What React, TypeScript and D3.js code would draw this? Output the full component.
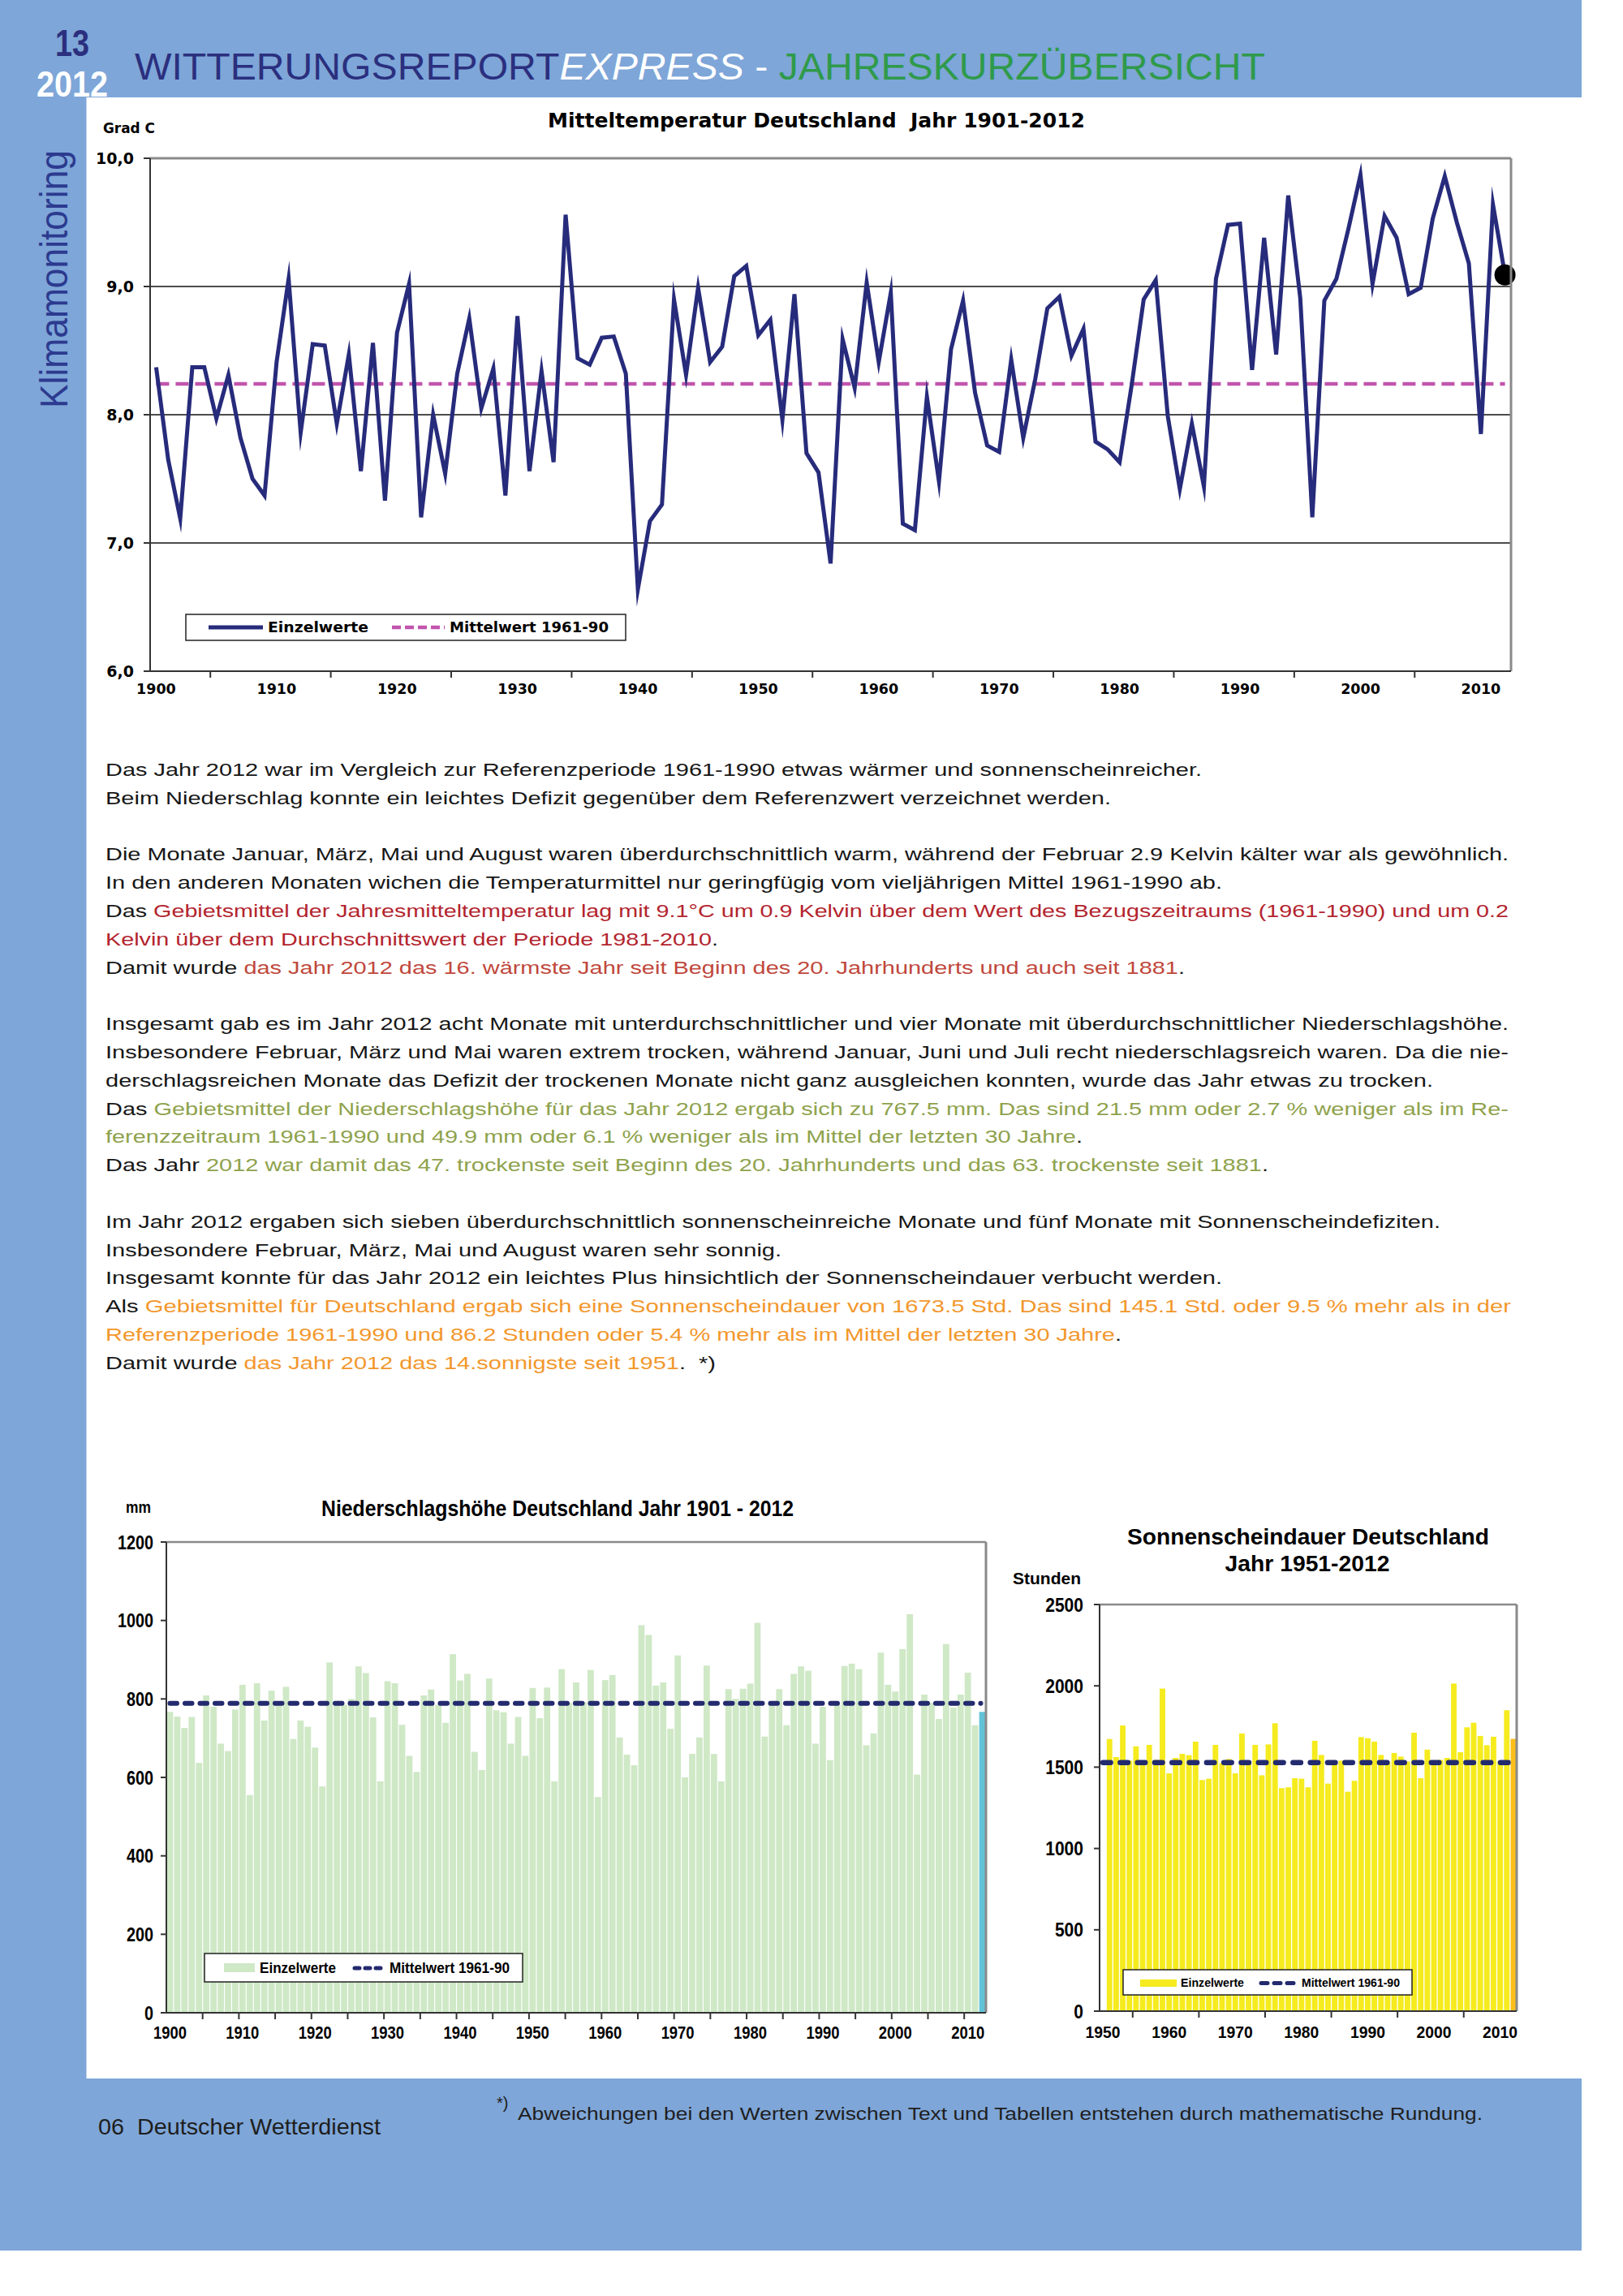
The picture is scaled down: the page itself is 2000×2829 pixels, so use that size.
import React from 'react';
import * as d3 from 'd3';

// ---------- DATA ----------
const TEMP_START = 1900;
const tempValues = [
  8.37, 7.65, 7.19, 8.37, 8.37, 7.97, 8.31, 7.82, 7.50, 7.37,
  8.41, 9.06, 7.86, 8.55, 8.54, 7.93, 8.47, 7.56, 8.56, 7.33,
  8.64, 9.02, 7.20, 8.00, 7.54, 8.32, 8.75, 8.05, 8.36, 7.37,
  8.77, 7.56, 8.34, 7.63, 9.56, 8.44, 8.39, 8.60, 8.61, 8.32,
  6.64, 7.17, 7.30, 8.90, 8.31, 8.99, 8.41, 8.53, 9.08, 9.16,
  8.62, 8.74, 7.96, 8.94, 7.70, 7.55, 6.84, 8.59, 8.21, 9.03,
  8.41, 8.95, 7.15, 7.10, 8.14, 7.48, 8.51, 8.89, 8.17, 7.76,
  7.71, 8.43, 7.82, 8.28, 8.83, 8.92, 8.46, 8.67, 7.79, 7.73,
  7.63, 8.23, 8.90, 9.05, 7.99, 7.42, 7.93, 7.44, 9.06, 9.48,
  9.49, 8.35, 9.38, 8.47, 9.71, 8.91, 7.20, 8.89, 9.06, 9.45,
  9.87, 9.02, 9.55, 9.38, 8.94, 8.99, 9.53, 9.86, 9.50, 9.18,
  7.85, 9.64, 9.09,
];
const tempMean = 8.24;
const tempTicks = [6, 7, 8, 9, 10];
const tempTickLabels = ['6,0', '7,0', '8,0', '9,0', '10,0'];
const tempGrid = [7, 8, 9];

const PRECIP_START = 1900;
const precipValues = [
  767, 755, 726, 754, 637, 809, 780, 686, 667, 773,
  836, 555, 840, 745, 821, 790, 831, 698, 745, 729,
  676, 577, 893, 795, 785, 800, 883, 866, 753, 590,
  845, 840, 734, 655, 614, 809, 824, 785, 739, 914,
  847, 864, 665, 619, 852, 771, 766, 686, 754, 655,
  828, 751, 829, 590, 876, 790, 842, 792, 874, 550,
  848, 861, 702, 658, 631, 988, 963, 834, 842, 724,
  911, 600, 660, 702, 885, 660, 590, 825, 800, 826,
  839, 994, 704, 785, 825, 733, 864, 883, 872, 686,
  780, 644, 785, 884, 890, 876, 682, 712, 918, 836,
  819, 927, 1016, 607, 811, 790, 749, 940, 778, 811,
  867, 733, 767,
];
const precipMean = 789;
const precipTicks = [0, 200, 400, 600, 800, 1000, 1200];

const SUN_START = 1950;
// 1950 has no value (axis category only)
const sunValues = [
  null,
  1673, 1562, 1756, 1540, 1628, 1530, 1637, 1545, 1983, 1462,
  1557, 1582, 1574, 1657, 1421, 1429, 1637, 1525, 1550, 1462,
  1707, 1535, 1637, 1450, 1640, 1770, 1371, 1376, 1432, 1429,
  1376, 1662, 1575, 1399, 1520, 1540, 1349, 1416, 1685, 1678,
  1657, 1575, 1530, 1587, 1565, 1535, 1712, 1432, 1608, 1525,
  1545, 1557, 2014, 1592, 1745, 1773, 1692, 1635, 1687, 1535,
  1850, 1674,
];
const sunMean = 1528;
const sunTicks = [0, 500, 1000, 1500, 2000, 2500];

const decadeLabels = [1900, 1910, 1920, 1930, 1940, 1950, 1960, 1970, 1980, 1990, 2000, 2010];
const sunDecadeLabels = [1950, 1960, 1970, 1980, 1990, 2000, 2010];

const RED = '#b3242e';
const RED2 = '#c0473b';
const GREEN = '#8ea24c';
const ORANGE = '#f2972c';
const BLK = '#161616';

const bodyLines: { n: number; end: number; segs: [string, string][] }[] = [
  { n: 1, end: 1481, segs: [['Das Jahr 2012 war im Vergleich zur Referenzperiode 1961-1990 etwas wärmer und sonnenscheinreicher.', BLK]] },
  { n: 2, end: 1369, segs: [['Beim Niederschlag konnte ein leichtes Defizit gegenüber dem Referenzwert verzeichnet werden.', BLK]] },
  { n: 4, end: 1859, segs: [['Die Monate Januar, März, Mai und August waren überdurchschnittlich warm, während der Februar 2.9 Kelvin kälter war als gewöhnlich.', BLK]] },
  { n: 5, end: 1506, segs: [['In den anderen Monaten wichen die Temperaturmittel nur geringfügig vom vieljährigen Mittel 1961-1990 ab.', BLK]] },
  { n: 6, end: 1859, segs: [['Das ', BLK], ['Gebietsmittel der Jahresmitteltemperatur lag mit 9.1°C um 0.9 Kelvin über dem Wert des Bezugszeitraums (1961-1990) und um 0.2', RED]] },
  { n: 7, end: 885, segs: [['Kelvin über dem Durchschnittswert der Periode 1981-2010', RED], ['.', BLK]] },
  { n: 8, end: 1460, segs: [['Damit wurde ', BLK], ['das Jahr 2012 das 16. wärmste Jahr seit Beginn des 20. Jahrhunderts und auch seit 1881', RED2], ['.', BLK]] },
  { n: 10, end: 1859, segs: [['Insgesamt gab es im Jahr 2012 acht Monate mit unterdurchschnittlicher und vier Monate mit überdurchschnittlicher Niederschlagshöhe.', BLK]] },
  { n: 11, end: 1859, segs: [['Insbesondere Februar, März und Mai waren extrem trocken, während Januar, Juni und Juli recht niederschlagsreich waren. Da die nie-', BLK]] },
  { n: 12, end: 1766, segs: [['derschlagsreichen Monate das Defizit der trockenen Monate nicht ganz ausgleichen konnten, wurde das Jahr etwas zu trocken.', BLK]] },
  { n: 13, end: 1859, segs: [['Das ', BLK], ['Gebietsmittel der Niederschlagshöhe für das Jahr 2012 ergab sich zu 767.5 mm. Das sind 21.5 mm oder 2.7 % weniger als im Re-', GREEN]] },
  { n: 14, end: 1334, segs: [['ferenzzeitraum 1961-1990 und 49.9 mm oder 6.1 % weniger als im Mittel der letzten 30 Jahre', GREEN], ['.', BLK]] },
  { n: 15, end: 1563, segs: [['Das Jahr ', BLK], ['2012 war damit das 47. trockenste seit Beginn des 20. Jahrhunderts und das 63. trockenste seit 1881', GREEN], ['.', BLK]] },
  { n: 17, end: 1775, segs: [['Im Jahr 2012 ergaben sich sieben überdurchschnittlich sonnenscheinreiche Monate und fünf Monate mit Sonnenscheindefiziten.', BLK]] },
  { n: 18, end: 963, segs: [['Insbesondere Februar, März, Mai und August waren sehr sonnig.', BLK]] },
  { n: 19, end: 1506, segs: [['Insgesamt konnte für das Jahr 2012 ein leichtes Plus hinsichtlich der Sonnenscheindauer verbucht werden.', BLK]] },
  { n: 20, end: 1862, segs: [['Als ', BLK], ['Gebietsmittel für Deutschland ergab sich eine Sonnenscheindauer von 1673.5 Std. Das sind 145.1 Std. oder 9.5 % mehr als in der', ORANGE]] },
  { n: 21, end: 1382, segs: [['Referenzperiode 1961-1990 und 86.2 Stunden oder 5.4 % mehr als im Mittel der letzten 30 Jahre', ORANGE], ['.', BLK]] },
  { n: 22, end: 882, segs: [['Damit wurde ', BLK], ['das Jahr 2012 das 14.sonnigste seit 1951', ORANGE], ['.  *)', BLK]] },
];

// ---------- STYLE ----------
const SANS = '"Liberation Sans", Arial, Helvetica, sans-serif';
const DEJA = '"DejaVu Sans", Verdana, sans-serif';
const BLUE = '#7ea6d8';
const NAVY = '#272b7b';
const DASHNAVY = '#232a6e';

type TP = {
  x: number; y: number; w?: number; size: number; fill?: string; weight?: string | number;
  anchor?: 'start' | 'middle' | 'end'; family?: string; italic?: boolean; transform?: string; children?: React.ReactNode;
};
function Txt({ x, y, w, size, fill = '#000', weight = 'normal', anchor = 'start', family = SANS, italic, transform, children }: TP) {
  return (
    <text
      x={x}
      y={y}
      fontSize={size}
      fill={fill}
      fontWeight={weight}
      textAnchor={anchor}
      fontFamily={family}
      fontStyle={italic ? 'italic' : 'normal'}
      textLength={w}
      lengthAdjust={w ? 'spacingAndGlyphs' : undefined}
      transform={transform}
      style={{ whiteSpace: 'pre' }}
    >
      {children}
    </text>
  );
}

function TempChart() {
  const years = tempValues.map((_, i) => TEMP_START + i);
  const x = d3.scaleBand<number>().domain(years).range([185, 1862]);
  const cx = (yr: number) => (x(yr) as number) + x.bandwidth() / 2;
  const y = d3.scaleLinear().domain([6, 10]).range([827, 195]);
  const line = d3.line<number>().x((_, i) => cx(years[i])).y((d) => y(d));
  const step = x.step();
  const tickBounds = d3.range(5, years.length, 10);
  const last = years[years.length - 1];
  return (
    <g>
      <Txt x={1006} y={157} w={662} size={24} weight="bold" anchor="middle" family={DEJA}>Mitteltemperatur Deutschland  Jahr 1901-2012</Txt>
      <Txt x={127} y={164} w={64} size={18} weight="bold" family={DEJA}>Grad C</Txt>
      {tempGrid.map((t) => (
        <line key={t} x1={185} x2={1862} y1={y(t)} y2={y(t)} stroke="#111" strokeWidth={1.3} />
      ))}
      <line x1={cx(years[0])} x2={cx(last)} y1={y(tempMean)} y2={y(tempMean)} stroke="#c155ad" strokeWidth={4.5} strokeDasharray="16,8" />
      <path d={line(tempValues) || ''} fill="none" stroke={NAVY} strokeWidth={5} strokeLinejoin="miter" strokeMiterlimit={10} />
      <circle cx={cx(last)} cy={y(tempValues[tempValues.length - 1])} r={13} fill="#000" />
      {/* frame */}
      <line x1={185} x2={1862} y1={195} y2={195} stroke="#8a8a8a" strokeWidth={3} />
      <line x1={1862} x2={1862} y1={195} y2={827} stroke="#8a8a8a" strokeWidth={3} />
      <line x1={185} x2={185} y1={195} y2={828} stroke="#333" strokeWidth={2} />
      <line x1={178} x2={1862} y1={827} y2={827} stroke="#333" strokeWidth={2} />
      {tempTicks.map((t, i) => (
        <g key={t}>
          <line x1={177} x2={185} y1={y(t)} y2={y(t)} stroke="#333" strokeWidth={2} />
          <Txt x={165} y={y(t) + 7} size={19} weight="bold" anchor="end" family={DEJA}>{tempTickLabels[i]}</Txt>
        </g>
      ))}
      {tickBounds.map((k) => (
        <line key={k} x1={185 + k * step} x2={185 + k * step} y1={827} y2={835} stroke="#333" strokeWidth={2} />
      ))}
      {decadeLabels.map((yr) => (
        <Txt key={yr} x={cx(yr)} y={855} size={17.5} weight="bold" anchor="middle" family={DEJA}>{String(yr)}</Txt>
      ))}
      {/* legend */}
      <rect x={229} y={757} width={542} height={32} fill="#fff" stroke="#222" strokeWidth={1.5} />
      <line x1={257} x2={324} y1={773} y2={773} stroke={NAVY} strokeWidth={5} />
      <Txt x={330} y={779} w={124} size={17} weight="bold" family={DEJA}>Einzelwerte</Txt>
      <line x1={483} x2={548} y1={773} y2={773} stroke="#c155ad" strokeWidth={4.5} strokeDasharray="11,5" />
      <Txt x={554} y={779} w={196} size={17} weight="bold" family={DEJA}>Mittelwert 1961-90</Txt>
    </g>
  );
}

function PrecipChart() {
  const years = precipValues.map((_, i) => PRECIP_START + i);
  const L = 205, R = 1215, B = 2480, T = 1900;
  const x = d3.scaleBand<number>().domain(years).range([L, R]).paddingInner(0.13).paddingOuter(0.065);
  const y = d3.scaleLinear().domain([0, 1200]).range([B, T]);
  const step = x.step();
  const cx = (yr: number) => (x(yr) as number) + x.bandwidth() / 2;
  const last = years[years.length - 1];
  const tickBounds = d3.range(5, years.length, 5);
  return (
    <g>
      <Txt x={155} y={1864} w={31} size={20} weight="bold">mm</Txt>
      <Txt x={687} y={1868} w={582} size={27} weight="bold" anchor="middle">Niederschlagshöhe Deutschland Jahr 1901 - 2012</Txt>
      {precipValues.map((v, i) => (
        <rect key={i} x={x(years[i])} y={y(v)} width={x.bandwidth()} height={B - y(v)} fill={years[i] === last ? '#62c3d8' : '#cfe8c6'} />
      ))}
      <line x1={cx(years[0])} x2={cx(last) - 2} y1={y(precipMean)} y2={y(precipMean)} stroke={DASHNAVY} strokeWidth={6} strokeDasharray="8.5,10" strokeLinecap="round" />
      <line x1={L} x2={R} y1={T} y2={T} stroke="#8a8a8a" strokeWidth={2.5} />
      <line x1={R} x2={R} y1={T} y2={B} stroke="#8a8a8a" strokeWidth={3} />
      <line x1={L} x2={L} y1={T} y2={B + 1} stroke="#333" strokeWidth={2} />
      <line x1={L} x2={R} y1={B} y2={B} stroke="#333" strokeWidth={2} />
      {precipTicks.map((t) => (
        <g key={t}>
          <line x1={198} x2={L} y1={y(t)} y2={y(t)} stroke="#333" strokeWidth={2} />
          <Txt x={189} y={y(t) + 8.5} w={String(t).length * 11} size={23} weight="bold" anchor="end">{String(t)}</Txt>
        </g>
      ))}
      {tickBounds.map((k) => (
        <line key={k} x1={L + k * step} x2={L + k * step} y1={B} y2={B + 8} stroke="#333" strokeWidth={2} />
      ))}
      {decadeLabels.map((yr) => (
        <Txt key={yr} x={cx(yr)} y={2512} w={41} size={22} weight="bold" anchor="middle">{String(yr)}</Txt>
      ))}
      <rect x={252} y={2407} width={392} height={35} fill="#fff" stroke="#222" strokeWidth={1.5} />
      <rect x={276} y={2419} width={38} height={11} fill="#cfe8c6" />
      <Txt x={320} y={2431} w={94} size={19} weight="bold">Einzelwerte</Txt>
      <line x1={437} x2={476} y1={2425} y2={2425} stroke={DASHNAVY} strokeWidth={5} strokeDasharray="6,7" strokeLinecap="round" />
      <Txt x={480} y={2431} w={148} size={19} weight="bold">Mittelwert 1961-90</Txt>
    </g>
  );
}

function SunChart() {
  const years = sunValues.map((_, i) => SUN_START + i);
  const L = 1355, R = 1869, B = 2478, T = 1977;
  const x = d3.scaleBand<number>().domain(years).range([L, R]).paddingInner(0.16).paddingOuter(0.08);
  const y = d3.scaleLinear().domain([0, 2500]).range([B, T]);
  const step = x.step();
  const cx = (yr: number) => (x(yr) as number) + x.bandwidth() / 2;
  const last = years[years.length - 1];
  const tickBounds = d3.range(5, years.length, 10);
  return (
    <g>
      <Txt x={1612} y={1903} w={446} size={27} weight="bold" anchor="middle">Sonnenscheindauer Deutschland</Txt>
      <Txt x={1611} y={1936} w={203} size={27} weight="bold" anchor="middle">Jahr 1951-2012</Txt>
      <Txt x={1248} y={1952} w={84} size={20} weight="bold">Stunden</Txt>
      {sunValues.map((v, i) =>
        v == null ? null : (
          <rect key={i} x={x(years[i])} y={y(v)} width={x.bandwidth()} height={B - y(v)} fill={years[i] === last ? '#fbbf1a' : '#f5eb1e'} />
        )
      )}
      <line x1={cx(years[0])} x2={cx(last) - 4} y1={y(sunMean)} y2={y(sunMean)} stroke={DASHNAVY} strokeWidth={6.5} strokeDasharray="9.5,11.8" strokeLinecap="round" />
      <line x1={L} x2={R} y1={T} y2={T} stroke="#8a8a8a" strokeWidth={2.5} />
      <line x1={R} x2={R} y1={T} y2={B} stroke="#8a8a8a" strokeWidth={3} />
      <line x1={L} x2={L} y1={T} y2={B + 1} stroke="#333" strokeWidth={2} />
      <line x1={L} x2={R} y1={B} y2={B} stroke="#333" strokeWidth={2} />
      {sunTicks.map((t) => (
        <g key={t}>
          <line x1={1348} x2={L} y1={y(t)} y2={y(t)} stroke="#333" strokeWidth={2} />
          <Txt x={1335} y={y(t) + 8.5} w={String(t).length * 11.7} size={23} weight="bold" anchor="end">{String(t)}</Txt>
        </g>
      ))}
      {tickBounds.map((k) => (
        <line key={k} x1={L + k * step} x2={L + k * step} y1={B} y2={B + 8} stroke="#333" strokeWidth={2} />
      ))}
      {sunDecadeLabels.map((yr) => (
        <Txt key={yr} x={cx(yr)} y={2511} w={43} size={21} weight="bold" anchor="middle">{String(yr)}</Txt>
      ))}
      <rect x={1384} y={2427} width={356} height={31} fill="#fff" stroke="#222" strokeWidth={1.5} />
      <rect x={1405} y={2439} width={45} height={9} fill="#f5eb1e" />
      <Txt x={1455} y={2448} w={78} size={15} weight="bold">Einzelwerte</Txt>
      <line x1={1554} x2={1598} y1={2443.5} y2={2443.5} stroke={DASHNAVY} strokeWidth={5} strokeDasharray="8,8" strokeLinecap="round" />
      <Txt x={1604} y={2448} w={121} size={15} weight="bold">Mittelwert 1961-90</Txt>
    </g>
  );
}

function Body() {
  return (
    <g>
      {bodyLines.map((ln) => (
        <text
          key={ln.n}
          x={130}
          y={956 + (ln.n - 1) * 34.8}
          fontSize={22}
          fontFamily={SANS}
          textLength={ln.end - 130}
          lengthAdjust="spacingAndGlyphs"
          style={{ whiteSpace: 'pre' }}
        >
          {ln.segs.map(([t, c], j) => (
            <tspan key={j} fill={c}>{t}</tspan>
          ))}
        </text>
      ))}
    </g>
  );
}

export default function App() {
  return (
    <svg
      width={2000}
      height={2829}
      viewBox="0 0 2000 2829"
      style={{ position: 'absolute', left: 0, top: 0, display: 'block', background: '#fff' }}
    >
      <rect x={0} y={0} width={2000} height={2829} fill="#fff" />
      <rect x={0} y={0} width={1949} height={2773} fill={BLUE} />
      <rect x={106.5} y={120} width={1842.5} height={2441} fill="#fff" />

      {/* header */}
      <Txt x={110} y={69} w={42} size={46} weight="bold" anchor="end" fill="#2b2f7e">13</Txt>
      <Txt x={133} y={119} w={88} size={44} weight="bold" anchor="end" fill="#fff">2012</Txt>
      <text x={166} y={98} fontSize={46} fontFamily={SANS} textLength={1393} lengthAdjust="spacingAndGlyphs" style={{ whiteSpace: 'pre' }}>
        <tspan fill="#2b2f7e">WITTERUNGSREPORT</tspan>
        <tspan fill="#fff" fontStyle="italic">EXPRESS</tspan>
        <tspan fill="#fff"> - </tspan>
        <tspan fill="#2f9a4a">JAHRESKURZÜBERSICHT</tspan>
      </text>
      <Txt x={0} y={0} w={318} size={48} fill="#2c3a8f" transform="translate(83,503) rotate(-90)">Klimamonitoring</Txt>

      <TempChart />
      <Body />
      <PrecipChart />
      <SunChart />

      {/* footer */}
      <Txt x={121} y={2630} w={348} size={28} fill="#1e1e1e">06  Deutscher Wetterdienst</Txt>
      <Txt x={612} y={2598} size={20} fill="#1e1e1e">*)</Txt>
      <Txt x={638} y={2612} w={1189} size={22} fill="#1e1e1e">Abweichungen bei den Werten zwischen Text und Tabellen entstehen durch mathematische Rundung.</Txt>
    </svg>
  );
}
